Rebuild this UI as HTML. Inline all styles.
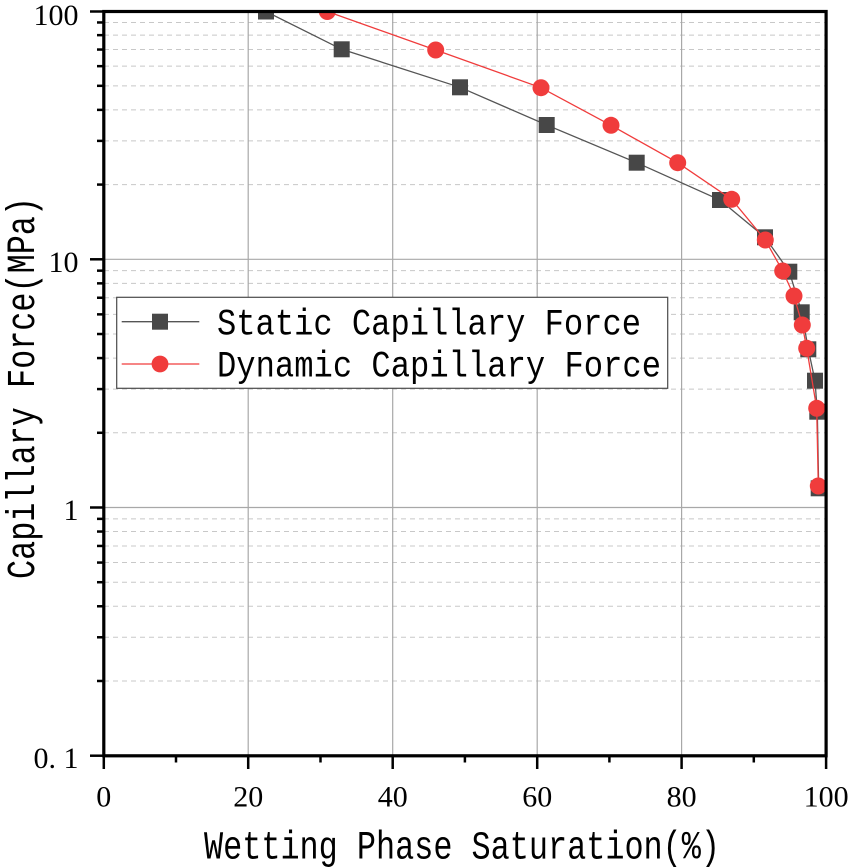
<!DOCTYPE html>
<html>
<head>
<meta charset="utf-8">
<style>
  html,body{margin:0;padding:0;background:#fff;}
  svg{display:block;}
  .tick{font-family:"Liberation Serif","Noto Serif CJK SC",serif;font-size:30px;fill:#000;}
  .title{font-family:"Liberation Mono","Noto Sans CJK SC",monospace;font-size:40px;fill:#000;}
  .leg{font-family:"Liberation Mono","Noto Sans CJK SC",monospace;font-size:37px;fill:#000;}
</style>
</head>
<body>
<svg width="854" height="867" viewBox="0 0 854 867" xmlns="http://www.w3.org/2000/svg">
  <defs>
    <clipPath id="plot">
      <rect x="103.8" y="11.5" width="722.3" height="744.5"/>
    </clipPath>
  </defs>
  <rect x="0" y="0" width="854" height="867" fill="#fff"/>

  <!-- minor horizontal dashed grid -->
  <g stroke="#c8c8c8" stroke-width="1" stroke-dasharray="5,4" fill="none">
    <line x1="104" x2="826" y1="680.98" y2="680.98"/>
    <line x1="104" x2="826" y1="637.28" y2="637.28"/>
    <line x1="104" x2="826" y1="606.27" y2="606.27"/>
    <line x1="104" x2="826" y1="582.22" y2="582.22"/>
    <line x1="104" x2="826" y1="562.56" y2="562.56"/>
    <line x1="104" x2="826" y1="545.95" y2="545.95"/>
    <line x1="104" x2="826" y1="531.55" y2="531.55"/>
    <line x1="104" x2="826" y1="518.86" y2="518.86"/>
    <line x1="104" x2="826" y1="432.78" y2="432.78"/>
    <line x1="104" x2="826" y1="389.08" y2="389.08"/>
    <line x1="104" x2="826" y1="358.07" y2="358.07"/>
    <line x1="104" x2="826" y1="334.02" y2="334.02"/>
    <line x1="104" x2="826" y1="314.36" y2="314.36"/>
    <line x1="104" x2="826" y1="297.75" y2="297.75"/>
    <line x1="104" x2="826" y1="283.35" y2="283.35"/>
    <line x1="104" x2="826" y1="270.66" y2="270.66"/>
    <line x1="104" x2="826" y1="184.58" y2="184.58"/>
    <line x1="104" x2="826" y1="140.88" y2="140.88"/>
    <line x1="104" x2="826" y1="109.87" y2="109.87"/>
    <line x1="104" x2="826" y1="85.82" y2="85.82"/>
    <line x1="104" x2="826" y1="66.16" y2="66.16"/>
    <line x1="104" x2="826" y1="49.55" y2="49.55"/>
    <line x1="104" x2="826" y1="35.15" y2="35.15"/>
    <line x1="104" x2="826" y1="22.46" y2="22.46"/>
  </g>

  <!-- major grid -->
  <g stroke="#a8a8a8" stroke-width="1.2" fill="none">
    <line x1="104" x2="826" y1="259.3" y2="259.3"/>
    <line x1="104" x2="826" y1="507.5" y2="507.5"/>
    <line x1="248.2" x2="248.2" y1="12" y2="756"/>
    <line x1="392.7" x2="392.7" y1="12" y2="756"/>
    <line x1="537.2" x2="537.2" y1="12" y2="756"/>
    <line x1="681.6" x2="681.6" y1="12" y2="756"/>
  </g>

  <!-- data -->
  <g clip-path="url(#plot)">
    <polyline fill="none" stroke="#555" stroke-width="1.3"
      points="266,11.5 341.7,49.3 460,87.3 546.7,125 636.7,162.7 720,200 765,237.3 789.3,271.7 801.7,312.3 808.3,349.3 815,380.7 817.3,411.7 818.7,488.3"/>
    <g fill="#474747">
      <rect x="258" y="3.5" width="16" height="16"/>
      <rect x="333.7" y="41.3" width="16" height="16"/>
      <rect x="452" y="79.3" width="16" height="16"/>
      <rect x="538.7" y="117" width="16" height="16"/>
      <rect x="628.7" y="154.7" width="16" height="16"/>
      <rect x="712" y="192" width="16" height="16"/>
      <rect x="757" y="229.3" width="16" height="16"/>
      <rect x="781.3" y="263.7" width="16" height="16"/>
      <rect x="793.7" y="304.3" width="16" height="16"/>
      <rect x="800.3" y="341.3" width="16" height="16"/>
      <rect x="807" y="372.7" width="16" height="16"/>
      <rect x="809.3" y="403.7" width="16" height="16"/>
      <rect x="810.7" y="480.3" width="16" height="16"/>
    </g>
    <polyline fill="none" stroke="#f03c3c" stroke-width="1.3"
      points="327.3,11.5 435.7,50 541,87.7 611,125.3 677.7,162.7 731.7,199.3 765.3,240 782.7,271 794,296 802.3,325 806.7,348.3 816.7,408.3 818.3,486"/>
    <g fill="#f03c3c">
      <circle cx="327.3" cy="11.5" r="8.5"/>
      <circle cx="435.7" cy="50" r="8.5"/>
      <circle cx="541" cy="87.7" r="8.5"/>
      <circle cx="611" cy="125.3" r="8.5"/>
      <circle cx="677.7" cy="162.7" r="8.5"/>
      <circle cx="731.7" cy="199.3" r="8.5"/>
      <circle cx="765.3" cy="240" r="8.5"/>
      <circle cx="782.7" cy="271" r="8.5"/>
      <circle cx="794" cy="296" r="8.5"/>
      <circle cx="802.3" cy="325" r="8.5"/>
      <circle cx="806.7" cy="348.3" r="8.5"/>
      <circle cx="816.7" cy="408.3" r="8.5"/>
      <circle cx="818.3" cy="486" r="8.5"/>
    </g>
  </g>

  <!-- legend -->
  <rect x="116.7" y="297.3" width="551" height="91" fill="#fff" stroke="#4a4a4a" stroke-width="1.2"/>
  <line x1="121.7" x2="199.3" y1="321.7" y2="321.7" stroke="#555" stroke-width="1.3"/>
  <rect x="152" y="313.7" width="16" height="16" fill="#474747"/>
  <line x1="121.7" x2="199.3" y1="364" y2="364" stroke="#f03c3c" stroke-width="1.3"/>
  <circle cx="160" cy="364" r="8.4" fill="#f03c3c"/>
  <text class="leg" x="217" y="334.5" textLength="424" lengthAdjust="spacingAndGlyphs">Static Capillary Force</text>
  <text class="leg" x="217" y="376.7" textLength="444" lengthAdjust="spacingAndGlyphs">Dynamic Capillary Force</text>

  <!-- ticks -->
  <g stroke="#000" stroke-width="2.5" fill="none">
    <!-- x major -->
    <line x1="103.8" x2="103.8" y1="756" y2="769"/>
    <line x1="248.2" x2="248.2" y1="756" y2="769"/>
    <line x1="392.7" x2="392.7" y1="756" y2="769"/>
    <line x1="537.2" x2="537.2" y1="756" y2="769"/>
    <line x1="681.6" x2="681.6" y1="756" y2="769"/>
    <line x1="826.1" x2="826.1" y1="756" y2="769"/>
    <!-- x minor -->
    <line x1="176" x2="176" y1="756" y2="762.5"/>
    <line x1="320.5" x2="320.5" y1="756" y2="762.5"/>
    <line x1="464.9" x2="464.9" y1="756" y2="762.5"/>
    <line x1="609.4" x2="609.4" y1="756" y2="762.5"/>
    <line x1="753.8" x2="753.8" y1="756" y2="762.5"/>
    <!-- y major -->
    <line x1="90" x2="103.8" y1="11.5" y2="11.5"/>
    <line x1="90" x2="103.8" y1="259.3" y2="259.3"/>
    <line x1="90" x2="103.8" y1="507.5" y2="507.5"/>
    <line x1="90" x2="103.8" y1="755.7" y2="755.7"/>
  </g>
  <g stroke="#000" stroke-width="2.5" fill="none">
    <line x1="97" x2="103.8" y1="680.98" y2="680.98"/>
    <line x1="97" x2="103.8" y1="637.28" y2="637.28"/>
    <line x1="97" x2="103.8" y1="606.27" y2="606.27"/>
    <line x1="97" x2="103.8" y1="582.22" y2="582.22"/>
    <line x1="97" x2="103.8" y1="562.56" y2="562.56"/>
    <line x1="97" x2="103.8" y1="545.95" y2="545.95"/>
    <line x1="97" x2="103.8" y1="531.55" y2="531.55"/>
    <line x1="97" x2="103.8" y1="518.86" y2="518.86"/>
    <line x1="97" x2="103.8" y1="432.78" y2="432.78"/>
    <line x1="97" x2="103.8" y1="389.08" y2="389.08"/>
    <line x1="97" x2="103.8" y1="358.07" y2="358.07"/>
    <line x1="97" x2="103.8" y1="334.02" y2="334.02"/>
    <line x1="97" x2="103.8" y1="314.36" y2="314.36"/>
    <line x1="97" x2="103.8" y1="297.75" y2="297.75"/>
    <line x1="97" x2="103.8" y1="283.35" y2="283.35"/>
    <line x1="97" x2="103.8" y1="270.66" y2="270.66"/>
    <line x1="97" x2="103.8" y1="184.58" y2="184.58"/>
    <line x1="97" x2="103.8" y1="140.88" y2="140.88"/>
    <line x1="97" x2="103.8" y1="109.87" y2="109.87"/>
    <line x1="97" x2="103.8" y1="85.82" y2="85.82"/>
    <line x1="97" x2="103.8" y1="66.16" y2="66.16"/>
    <line x1="97" x2="103.8" y1="49.55" y2="49.55"/>
    <line x1="97" x2="103.8" y1="35.15" y2="35.15"/>
    <line x1="97" x2="103.8" y1="22.46" y2="22.46"/>
  </g>

  <!-- axes frame -->
  <rect x="103.8" y="11.5" width="722.3" height="744.3" fill="none" stroke="#000" stroke-width="3.2"/>

  <!-- tick labels -->
  <g class="tick" text-anchor="middle">
    <text x="103.8" y="806.5">0</text>
    <text x="248.2" y="806.5">20</text>
    <text x="392.7" y="806.5">40</text>
    <text x="537.2" y="806.5">60</text>
    <text x="681.6" y="806.5">80</text>
    <text x="826.1" y="806.5">100</text>
  </g>
  <g class="tick" text-anchor="end">
    <text x="78.5" y="25">100</text>
    <text x="78.5" y="272">10</text>
    <text x="78.5" y="520">1</text>
    <text x="78.5" y="768">0. 1</text>
  </g>

  <!-- axis titles -->
  <text class="title" x="204" y="858.5" textLength="516" lengthAdjust="spacingAndGlyphs">Wetting Phase Saturation(%)</text>
  <text class="title" transform="translate(34,579) rotate(-90)" x="0" y="0" textLength="382" lengthAdjust="spacingAndGlyphs">Capillary Force(MPa)</text>
</svg>
</body>
</html>
